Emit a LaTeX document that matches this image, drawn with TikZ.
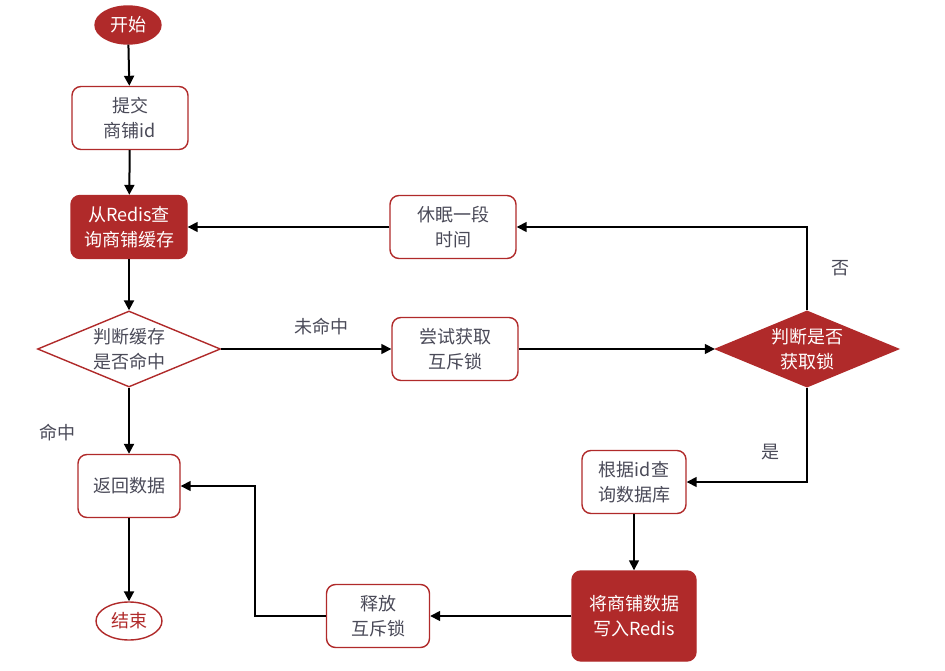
\documentclass[tikz,border=0pt]{standalone}
\usepackage{fontspec}
\setmainfont{Noto Sans CJK SC}
\usetikzlibrary{shapes.geometric,arrows.meta,positioning}
\definecolor{dred}{HTML}{B02A2A}
\definecolor{txt}{HTML}{4A4A58}

\begin{document}
\begin{tikzpicture}[x=1pt,y=-1pt,font=\fontsize{18}{25}\selectfont,
 b/.style={draw=dred,line width=1.4pt,rounded corners=9pt,fill=white,text=txt,align=center,minimum width=#1pt,minimum height=63pt,inner sep=2pt},
 ov/.style={ellipse,draw=dred,line width=1.4pt,minimum width=66pt,minimum height=38pt,inner sep=0pt},
 dia/.style={diamond,aspect=2.4,draw=dred,line width=1.4pt,fill=white,text=txt,align=center,minimum width=183pt,minimum height=76pt,inner sep=-6pt},
 a/.style={line width=1.6pt,-{Triangle[length=10pt,width=10pt]}},
 lbl/.style={text=txt}]
\useasboundingbox (0,0) rectangle (945,671);
\node[ov,fill=dred,text=white](st) at (128,25){开始};
\node[b=116](sub) at (130,118){提交\\商铺id};
\node[b=116,fill=dred,text=white](rq) at (129,227){从Redis查\\询商铺缓存};
\node[dia](hit) at (129,349){判断缓存\\是否命中};
\node[b=102](ret) at (129,486){返回数据};
\node[ov,fill=white,text=dred](end) at (129,621){结束};
\node[b=126](try) at (455,349){尝试获取\\互斥锁};
\node[b=126](slp) at (453,227){休眠一段\\时间};
\node[dia,fill=dred,text=white](got) at (807,349){判断是否\\获取锁};
\node[b=104](db) at (634,482){根据id查\\询数据库};
\node[b=124,minimum height=90pt,fill=dred,text=white](wr) at (634,616){将商铺数据\\写入Redis};
\node[b=103](rel) at (378,616){释放\\互斥锁};
\coordinate (bk) at (255,0);
% labels
\node[lbl] at (321,327){未命中};
\node[lbl] at (57,433){命中};
\node[lbl] at (840,268){否};
\node[lbl] at (770,452){是};
% main column
\draw[a,line width=2pt](st)--(sub);
\draw[a,line width=2pt](sub)--(rq);
\draw[a,line width=2pt](rq)--(hit);
\draw[a,line width=2pt](hit)--(ret);
\draw[a,line width=2pt](ret)--(end);
% miss branch
\draw[a](hit)--(try);
\draw[a](try)--(got);
\draw[a](got.north)|-(slp.east);
\draw[a](slp)--(rq);
\draw[a](got.south)|-(db.east);
\draw[a](db)--(wr);
\draw[a](wr)--(rel);
\draw[a](rel.west)-|(bk|-ret.east)--(ret.east);
\end{tikzpicture}
\end{document}
